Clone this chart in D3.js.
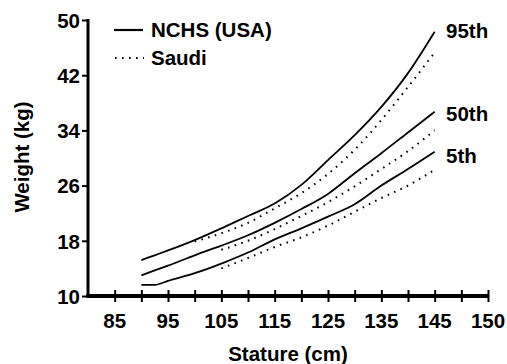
<!DOCTYPE html>
<html><head><meta charset="utf-8">
<script src="https://cdn.jsdelivr.net/npm/d3@7"></script>
<style>
html,body{margin:0;padding:0;background:#fff;}
svg text{font-family:"Liberation Sans",Arial,Helvetica,sans-serif;font-weight:bold;fill:#000;}
</style></head>
<body><svg id="c" width="507" height="364"></svg>
<script>
// Stature (cm) and weight (kg)
const ncSt = [90, 92.5, 95, 100, 105, 110, 115, 120, 125, 130, 135, 140, 145];
const ncP95 = [15.2, 15.9, 16.6, 18.1, 19.8, 21.6, 23.4, 26.1, 29.7, 33.3, 37.4, 42.3, 48.3];
const ncP50 = [13.0, 13.7, 14.4, 15.9, 17.3, 18.8, 20.6, 22.6, 24.8, 27.8, 30.7, 33.7, 36.7];
const ncP5  = [11.6, 11.6, 12.2, 13.3, 14.7, 16.3, 18.2, 19.8, 21.5, 23.3, 26.0, 28.4, 30.9];
const saSt95 = [100, 105, 110, 115, 120, 125, 130, 135, 140, 145];
const saP95 = [17.9, 19.1, 20.6, 22.7, 24.9, 27.7, 31.2, 35.5, 40.3, 45.3];
const saSt = [105, 110, 115, 120, 125, 130, 135, 140, 145];
const saP50 = [16.7, 18.0, 19.7, 21.6, 23.6, 25.9, 28.4, 31.0, 34.0];
const saP5  = [14.0, 15.5, 17.1, 18.5, 20.2, 22.2, 24.2, 26.0, 28.3];
const xTickVals = [85, 90, 95, 100, 105, 110, 115, 120, 125, 130, 135, 140, 145, 150, 155];
const xLabelVals = [85, 95, 105, 115, 125, 135, 145, 155];
const xLabelText = ["85", "95", "105", "115", "125", "135", "145", "150"];
const yTicks = [10, 18, 26, 34, 42, 50];
const pctLabels = ["95th", "50th", "5th"];
const legendText = ["NCHS (USA)", "Saudi"];

const svg = d3.select("#c");
const x = d3.scaleLinear().domain([80, 155]).range([88, 488]);
const y = d3.scaleLinear().domain([10, 50]).range([296, 20]);
const FS = 20.5;

// y axis
const ya = svg.append("g").attr("transform", "translate(88,0)")
  .call(d3.axisLeft(y).tickValues(yTicks).tickSize(6).tickPadding(2).tickFormat(d3.format("d")));
ya.select(".domain").attr("stroke", "#000").attr("stroke-width", 3).attr("d", "M0,19V297");
ya.selectAll(".tick line").attr("stroke", "#000").attr("stroke-width", 2);
ya.selectAll(".tick text").attr("font-size", FS).attr("font-family", null).attr("dy", "0.36em");

// x axis
const xa = svg.append("g").attr("transform", "translate(0,296)")
  .call(d3.axisBottom(x).tickValues(xTickVals).tickSize(6).tickFormat(""));
xa.select(".domain").attr("stroke", "#000").attr("stroke-width", 4).attr("d", "M86.5,0H489");
xa.selectAll(".tick line").attr("stroke", "#000").attr("stroke-width", 2).attr("y1", -6).attr("y2", 6);
const xl = svg.append("g");
xl.selectAll("text").data(xLabelVals).join("text")
  .attr("x", d => x(d)).attr("y", 328).attr("text-anchor", "middle")
  .attr("font-size", FS).text((d, i) => xLabelText[i]);

// axis titles
svg.append("text").attr("x", 288).attr("y", 361).attr("text-anchor", "middle")
  .attr("font-size", FS).text("Stature (cm)");
svg.append("text").attr("transform", "translate(29,157) rotate(-90)").attr("text-anchor", "middle")
  .attr("font-size", FS).text("Weight (kg)");

// lines
const line = d3.line().x(d => x(d[0])).y(d => y(d[1])).curve(d3.curveMonotoneX);
const solid = [ncP95, ncP50, ncP5];
solid.forEach(s => {
  svg.append("path").attr("d", line(ncSt.map((v, i) => [v, s[i]])))
    .attr("fill", "none").attr("stroke", "#000").attr("stroke-width", 1.8);
});
const dotted = [[saSt95, saP95], [saSt, saP50], [saSt, saP5]];
dotted.forEach(([st, s]) => {
  svg.append("path").attr("d", line(st.map((v, i) => [v, s[i]])))
    .attr("fill", "none").attr("stroke", "#000").attr("stroke-width", 2)
    .attr("stroke-dasharray", "1.6,5.4");
});

// percentile labels
const endVals = [ncP95[ncP95.length - 1], ncP50[ncP50.length - 1], ncP5[ncP5.length - 1]];
const labelOff = [-1, 2, 4];
svg.selectAll(".pl").data(pctLabels).join("text").attr("class", "pl")
  .attr("x", 446).attr("y", (d, i) => y(endVals[i]) + labelOff[i]).attr("dy", "0.36em")
  .attr("font-size", FS).text(d => d);

// legend
svg.append("line").attr("x1", 114).attr("x2", 143).attr("y1", 30).attr("y2", 30)
  .attr("stroke", "#000").attr("stroke-width", 2.2);
svg.append("text").attr("x", 151).attr("y", 37).attr("font-size", FS).text(legendText[0]);
svg.append("line").attr("x1", 115).attr("x2", 144).attr("y1", 58).attr("y2", 58)
  .attr("stroke", "#000").attr("stroke-width", 2).attr("stroke-dasharray", "1.6,5.4");
svg.append("text").attr("x", 151).attr("y", 65).attr("font-size", FS).text(legendText[1]);
</script></body></html>
